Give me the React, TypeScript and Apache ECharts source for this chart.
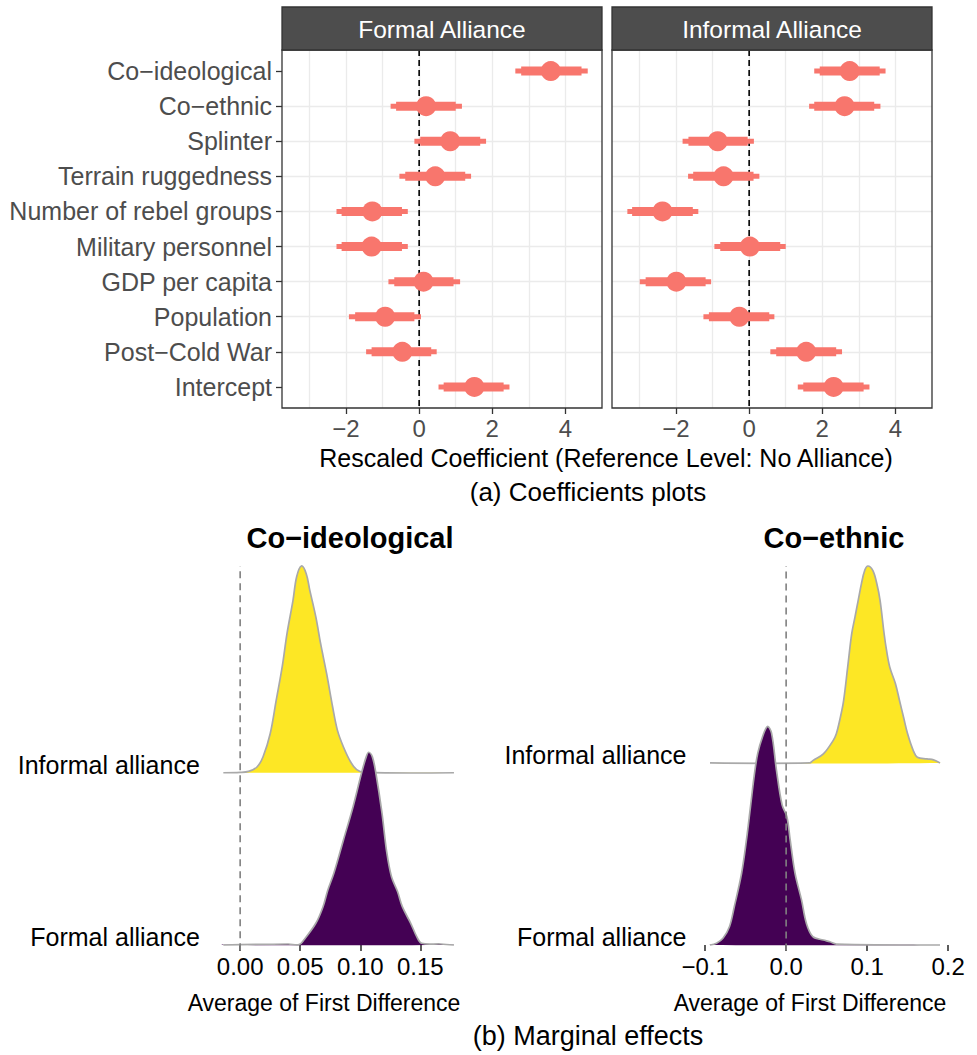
import React, { useEffect, useRef } from "react";
import * as echarts from "echarts";

// ---------- (a) coefficient plots ----------
const predictors = [
  "Co\u2212ideological",
  "Co\u2212ethnic",
  "Splinter",
  "Terrain ruggedness",
  "Number of rebel groups",
  "Military personnel",
  "GDP per capita",
  "Population",
  "Post\u2212Cold War",
  "Intercept",
];
const panelTitles = ["Formal Alliance", "Informal Alliance"];

const formalEst = [3.6, 0.19, 0.85, 0.44, -1.28, -1.3, 0.12, -0.93, -0.46, 1.51];
const formalLo95 = [2.63, -0.78, -0.13, -0.54, -2.26, -2.26, -0.84, -1.92, -1.45, 0.53];
const formalHi95 = [4.61, 1.17, 1.83, 1.42, -0.31, -0.31, 1.12, 0.05, 0.48, 2.47];
const formalLo90 = [2.79, -0.63, 0.03, -0.38, -2.12, -2.12, -0.68, -1.75, -1.3, 0.67];
const formalHi90 = [4.44, 1.0, 1.67, 1.26, -0.47, -0.47, 0.94, -0.13, 0.33, 2.31];

const informalEst = [2.75, 2.61, -0.86, -0.7, -2.37, 0.02, -1.99, -0.27, 1.56, 2.31];
const informalLo95 = [1.78, 1.64, -1.82, -1.67, -3.33, -0.95, -2.99, -1.25, 0.58, 1.33];
const informalHi95 = [3.73, 3.59, 0.13, 0.28, -1.39, 1.0, -1.04, 0.69, 2.54, 3.29];
const informalLo90 = [1.93, 1.78, -1.66, -1.53, -3.2, -0.79, -2.83, -1.1, 0.74, 1.48];
const informalHi90 = [3.57, 3.42, -0.04, 0.12, -1.54, 0.85, -1.19, 0.55, 2.38, 3.13];

const coefTicks = [-2, 0, 2, 4];

// ---------- (b) marginal effects ----------
const ridgeLabels = ["Formal alliance", "Informal alliance"];

const ideoInformalX = [-0.014, 0.0, 0.007, 0.014, 0.019, 0.025, 0.03, 0.035, 0.039, 0.044, 0.047, 0.051, 0.055, 0.058, 0.063, 0.067, 0.072, 0.077, 0.081, 0.086, 0.092, 0.097, 0.103, 0.178];
const ideoInformalD = [0, 0.04, 0.17, 0.74, 2.03, 5.03, 9.33, 13.64, 17.93, 22.23, 25.25, 26.66, 25.67, 23.52, 20.09, 16.64, 12.77, 8.48, 5.46, 3.32, 1.38, 0.39, 0.04, 0];

const ideoFormalX = [-0.014, 0.04, 0.049, 0.053, 0.063, 0.069, 0.073, 0.078, 0.086, 0.094, 0.101, 0.105, 0.107, 0.11, 0.113, 0.118, 0.122, 0.126, 0.131, 0.135, 0.142, 0.147, 0.151, 0.167, 0.178];
const ideoFormalD = [0, 0.13, 0.04, 0.65, 2.8, 4.94, 7.1, 9.25, 13.55, 17.84, 22.15, 24.29, 24.86, 24.29, 22.15, 17.1, 12.0, 8.8, 6.9, 4.94, 2.8, 1.07, 0.22, 0.13, 0];

const ethInformalX = [-0.094, 0.029, 0.033, 0.046, 0.058, 0.062, 0.067, 0.071, 0.076, 0.081, 0.085, 0.089, 0.093, 0.097, 0.101, 0.107, 0.112, 0.116, 0.121, 0.124, 0.128, 0.135, 0.14, 0.145, 0.15, 0.157, 0.162, 0.174, 0.182, 0.19];
const ethInformalD = [0, 0, 0.19, 0.74, 1.84, 2.4, 3.77, 5.15, 7.9, 10.66, 12.03, 13.41, 14.79, 15.88, 16.25, 15.88, 14.79, 13.41, 10.66, 9.28, 7.9, 6.53, 5.15, 3.77, 2.4, 1.02, 0.47, 0.33, 0.25, 0];

const ethFormalX = [-0.094, -0.086, -0.078, -0.07, -0.064, -0.055, -0.049, -0.044, -0.039, -0.035, -0.029, -0.023, -0.018, -0.012, -0.005, 0.001, 0.005, 0.011, 0.019, 0.025, 0.033, 0.046, 0.054, 0.062, 0.19];
const ethFormalD = [0, 0.14, 0.55, 1.51, 3.16, 5.92, 8.67, 11.42, 14.18, 15.83, 17.21, 18.03, 17.49, 14.46, 11.56, 10.57, 8.67, 5.92, 3.72, 1.79, 0.69, 0.41, 0.27, 0.08, 0];

const ideoTicks = [0, 0.05, 0.1, 0.15];
const ethTicks = [-0.1, 0, 0.1, 0.2];

const FONT = "'Liberation Sans', Arial, Helvetica, sans-serif";
const SALMON = "#F8766D";
const YELLOW = "#FDE725";
const PURPLE = "#440154";
const RIDGE_SCALE = 1.2;

const minus = (s: string) => s.replace("-", "\u2212");

function buildOption() {
  const topY = 50,
    topH = 358,
    panelW = 320;
  const lefts = [282, 612];
  const grids: any[] = [];
  const xAxes: any[] = [];
  const yAxes: any[] = [];
  const series: any[] = [];
  const graphics: any[] = [];

  const panels = [
    { est: formalEst, lo95: formalLo95, hi95: formalHi95, lo90: formalLo90, hi90: formalHi90 },
    { est: informalEst, lo95: informalLo95, hi95: informalHi95, lo90: informalLo90, hi90: informalHi90 },
  ];
  const idx = predictors.map((_, i) => i);

  panels.forEach((p, k) => {
    grids.push({ left: lefts[k], top: topY, width: panelW, height: topH, containLabel: false });
    const gi = k;
    const xi = xAxes.length;
    // data axis (all integer grid lines)
    xAxes.push({
      type: "value",
      gridIndex: gi,
      position: "bottom",
      min: -3.75,
      max: 5,
      minInterval: 1,
      maxInterval: 1,
      axisLine: { show: false, onZero: false },
      axisTick: { show: false },
      axisLabel: { show: false },
      splitLine: { show: true, showMinLine: false, showMaxLine: false, lineStyle: { color: "#EBEBEB", width: 1.3 } },
    });
    // labelled axis
    xAxes.push({
      type: "value",
      gridIndex: gi,
      position: "bottom",
      min: -3.75,
      max: 5,
      axisLine: { show: false, onZero: false },
      axisTick: { show: true, customValues: coefTicks, length: 6, lineStyle: { color: "#333333", width: 1.3 } },
      axisLabel: {
        show: true,
        customValues: coefTicks,
        color: "#4D4D4D",
        fontSize: 24,
        fontFamily: FONT,
        margin: 8,
        formatter: (v: number) => minus(String(v)),
      },
      splitLine: { show: false },
    });
    yAxes.push({
      type: "value",
      gridIndex: gi,
      position: "left",
      min: -0.6,
      max: 9.6,
      inverse: true,
      minInterval: 1,
      maxInterval: 1,
      axisLine: { show: false, onZero: false },
      axisTick: { show: k === 0, customValues: idx, length: 6, lineStyle: { color: "#333333", width: 1.3 } },
      axisLabel: {
        show: k === 0,
        customValues: idx,
        color: "#4D4D4D",
        fontSize: 25,
        fontFamily: FONT,
        margin: 10,
        formatter: (v: number) => (Number.isInteger(v) && predictors[v] ? predictors[v] : ""),
      },
      splitLine: { show: true, showMinLine: false, showMaxLine: false, lineStyle: { color: "#EBEBEB", width: 1.3 } },
    });
    series.push({
      type: "line",
      xAxisIndex: xi,
      yAxisIndex: k,
      data: [
        [0, -0.6],
        [0, 9.6],
      ],
      symbol: "none",
      lineStyle: { color: "#000000", width: 1.6, type: [6, 4] },
      z: 2,
      silent: true,
    });
    series.push({
      type: "custom",
      xAxisIndex: xi,
      yAxisIndex: k,
      data: idx.map((i) => [i, p.lo95[i], p.hi95[i], p.lo90[i], p.hi90[i]]),
      encode: { x: [1, 2, 3, 4], y: 0 },
      renderItem: (params: any, api: any) => {
        const y = api.value(0);
        const a = api.coord([api.value(1), y]);
        const b = api.coord([api.value(2), y]);
        const c = api.coord([api.value(3), y]);
        const d = api.coord([api.value(4), y]);
        return {
          type: "group",
          children: [
            { type: "line", shape: { x1: a[0], y1: a[1], x2: b[0], y2: b[1] }, style: { stroke: SALMON, lineWidth: 5, lineCap: "butt" } },
            { type: "line", shape: { x1: c[0], y1: c[1], x2: d[0], y2: d[1] }, style: { stroke: SALMON, lineWidth: 9, lineCap: "butt" } },
          ],
        };
      },
      z: 3,
      silent: true,
    });
    series.push({
      type: "scatter",
      xAxisIndex: xi,
      yAxisIndex: k,
      data: p.est.map((v, i) => [v, i]),
      symbol: "circle",
      symbolSize: 20,
      itemStyle: { color: SALMON, opacity: 1 },
      z: 4,
      silent: true,
    });
    // panel border
    graphics.push({
      type: "rect",
      shape: { x: lefts[k], y: topY, width: panelW, height: topH },
      style: { fill: "none", stroke: "#333333", lineWidth: 1.3 },
      z: 50,
      silent: true,
    });
    // strip
    graphics.push({
      type: "rect",
      shape: { x: lefts[k], y: 7, width: panelW, height: 43 },
      style: { fill: "#4D4D4D", stroke: "#333333", lineWidth: 1.3 },
      z: 50,
    });
    graphics.push({
      type: "text",
      x: lefts[k] + panelW / 2,
      y: 29,
      style: { text: panelTitles[k], fill: "#FFFFFF", font: `24.5px ${FONT}`, align: "center", verticalAlign: "middle" },
      z: 51,
    });
  });

  // ---------- ridges ----------
  const ridgePanels = [
    {
      left: 211.8,
      width: 253.7,
      ticks: ideoTicks,
      digits: 2,
      ridges: [
        { x: ideoFormalX, d: ideoFormalD, color: PURPLE },
        { x: ideoInformalX, d: ideoInformalD, color: YELLOW },
      ],
    },
    {
      left: 698.5,
      width: 253,
      ticks: ethTicks,
      digits: 1,
      ridges: [
        { x: ethFormalX, d: ethFormalD, color: PURPLE },
        { x: ethInformalX, d: ethInformalD, color: YELLOW },
      ],
    },
  ];
  ridgePanels.forEach((rp, k) => {
    const gi = 2 + k;
    grids.push({ left: rp.left, top: 566, width: rp.width, height: 379 });
    const allX = rp.ridges.flatMap((r) => r.x);
    const xmin = Math.min(...allX);
    const xmax = Math.max(...allX);
    const pad = (xmax - xmin) * 0.05;
    const maxD = Math.max(...rp.ridges.flatMap((r) => r.d));
    const kScale = RIDGE_SCALE / maxD;
    const yMax = Math.max(...rp.ridges.map((r, bi) => bi + Math.max(...r.d) * kScale));
    const xAxisIndex = xAxes.length;
    xAxes.push({
      type: "value",
      gridIndex: gi,
      position: "bottom",
      min: xmin - pad,
      max: xmax + pad,
      axisLine: { show: false, onZero: false },
      axisTick: { show: true, customValues: rp.ticks, length: 6, lineStyle: { color: "#333333", width: 1.6 } },
      axisLabel: {
        show: true,
        customValues: rp.ticks,
        color: "#000000",
        fontSize: 24,
        fontFamily: FONT,
        margin: 9,
        formatter: (v: number) => minus(v.toFixed(rp.digits)),
      },
      splitLine: { show: false },
    });
    const yAxisIndex = yAxes.length;
    yAxes.push({
      type: "value",
      gridIndex: gi,
      position: "left",
      min: 0,
      max: yMax,
      axisLine: { show: false, onZero: false },
      axisTick: { show: false },
      axisLabel: {
        show: true,
        customValues: [0, 1],
        color: "#000000",
        fontSize: 25,
        fontFamily: FONT,
        margin: 12,
        verticalAlign: "bottom",
        lineHeight: 16,
        formatter: (v: number) => ridgeLabels[v] ?? "",
      },
      splitLine: { show: false },
    });
    // draw upper ridge first, then lower on top
    [1, 0].forEach((bi) => {
      const r = rp.ridges[bi];
      series.push({
        type: "custom",
        xAxisIndex,
        yAxisIndex,
        data: [[r.x[0], bi]],
        renderItem: (params: any, api: any) => {
          const pts = r.x.map((x, i) => api.coord([x, bi + r.d[i] * kScale]));
          return {
            type: "group",
            children: [
              { type: "polygon", shape: { points: pts, smooth: 0.35 }, style: { fill: r.color, stroke: "none" } },
              { type: "polyline", shape: { points: pts, smooth: 0.35 }, style: { fill: "none", stroke: "#A9A9A9", lineWidth: 1.7 } },
            ],
          };
        },
        z: 3 + (1 - bi),
        silent: true,
      });
    });
    series.push({
      type: "line",
      xAxisIndex,
      yAxisIndex,
      data: [
        [0, -0.03],
        [0, yMax],
      ],
      clip: false,
      symbol: "none",
      lineStyle: { color: "#808080", width: 1.6, type: [7, 5] },
      z: 6,
      silent: true,
    });
  });

  const textG = (text: string, x: number, y: number, size: number, bold = false) => ({
    type: "text",
    x,
    y,
    style: {
      text,
      fill: "#000000",
      font: `${bold ? "bold " : ""}${size}px ${FONT}`,
      align: "center",
      verticalAlign: "middle",
    },
    z: 50,
  });
  graphics.push(textG("Rescaled Coefficient (Reference Level: No Alliance)", 606, 458, 25));
  graphics.push(textG("(a) Coefficients plots", 588, 492, 26));
  graphics.push(textG("Co\u2212ideological", 350, 538, 29, true));
  graphics.push(textG("Co\u2212ethnic", 834, 538, 29, true));
  graphics.push(textG("Average of First Difference", 324, 1003, 23));
  graphics.push(textG("Average of First Difference", 810, 1003, 23));
  graphics.push(textG("(b) Marginal effects", 588, 1036, 27));

  return {
    animation: false,
    backgroundColor: "#FFFFFF",
    textStyle: { fontFamily: FONT },
    grid: grids,
    xAxis: xAxes,
    yAxis: yAxes,
    series,
    graphic: graphics,
  };
}

export default function App() {
  const ref = useRef<HTMLDivElement>(null);
  useEffect(() => {
    document.body.style.margin = "0";
    if (!ref.current) return;
    const chart = echarts.init(ref.current, undefined, { renderer: "svg" });
    chart.setOption(buildOption() as any);
    return () => chart.dispose();
  }, []);
  return <div ref={ref} style={{ width: 977, height: 1055, position: "absolute", left: 0, top: 0 }} />;
}
